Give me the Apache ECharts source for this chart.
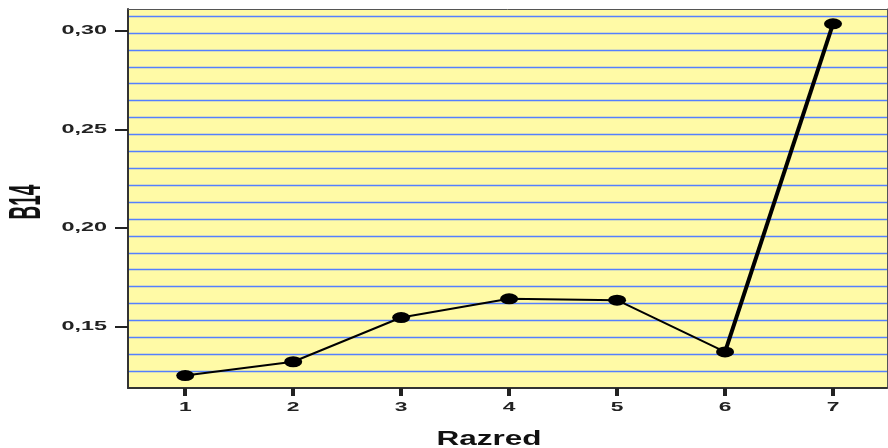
<!DOCTYPE html>
<html><head><meta charset="utf-8">
<script src="https://cdn.jsdelivr.net/npm/echarts@6/dist/echarts.min.js"></script>
<style>html,body{margin:0;padding:0;background:#fff}#c{width:888px;height:448px}</style>
</head><body><div id="c"></div>
<script>
const categories = [1, 2, 3, 4, 5, 6, 7];
const values = [0.1253, 0.1323, 0.1547, 0.1642, 0.1635, 0.1373, 0.3035];
const yTicks = [0.15, 0.20, 0.25, 0.30];
const xTitle = 'Razred';
const yTitle = 'B14';

const chart = echarts.init(document.getElementById('c'), null, {renderer: 'canvas'});
const pts = categories.map((c, i) => [c, values[i]]);
const steep = categories.map((c, i) => [c, i >= 5 ? values[i] : '-']);

chart.setOption({
  animation: false,
  grid: {left: 128, top: 9, width: 759, height: 379, show: true, backgroundColor: '#fffaa6', borderWidth: 0},
  xAxis: [
    {type: 'value', min: 0.47, max: 7.5,
     axisLine: {show: true, onZero: false, lineStyle: {color: '#333', width: 2}},
     axisTick: {show: true, customValues: categories, length: 8, lineStyle: {color: '#222', width: 4}},
     axisLabel: {show: false}, splitLine: {show: false}},
    {type: 'value', position: 'top', min: 0.47, max: 7.5,
     axisLine: {show: true, onZero: false, lineStyle: {color: '#555', width: 1}},
     axisTick: {show: false}, axisLabel: {show: false}, splitLine: {show: false}}
  ],
  yAxis: [
    {type: 'value', min: 0.119, max: 0.311,
     axisLine: {show: true, onZero: false, lineStyle: {color: '#333', width: 2}},
     axisTick: {show: true, customValues: yTicks, length: 13, lineStyle: {color: '#222', width: 2}},
     axisLabel: {show: false}, splitLine: {show: false}},
    {type: 'value', position: 'right', min: 0, max: 22.42, interval: 1,
     axisLine: {show: true, onZero: false, lineStyle: {color: '#555', width: 1}},
     axisTick: {show: false}, axisLabel: {show: false},
     splitLine: {show: true, showMinLine: false, showMaxLine: false, lineStyle: {color: '#5580ff', width: 1.3}}}
  ],
  series: [
    {type: 'line', xAxisIndex: 0, yAxisIndex: 0, data: steep, symbol: 'none',
     lineStyle: {color: '#000', width: 4}, z: 3},
    {type: 'line', xAxisIndex: 0, yAxisIndex: 0, data: pts, symbol: 'circle', symbolSize: [18, 11],
     itemStyle: {color: '#000'}, lineStyle: {color: '#000', width: 2}, z: 4}
  ]
});

const g = [];
yTicks.forEach(v => {
  const py = chart.convertToPixel({yAxisIndex: 0}, v);
  g.push({type: 'text', x: 107, y: py, scaleX: 1.95, z: 10,
    style: {text: v.toFixed(2).replace('.', ','), font: 'bold 12px "Liberation Sans"', fill: '#222', align: 'right', verticalAlign: 'middle'}});
});
categories.forEach(c => {
  const px = chart.convertToPixel({xAxisIndex: 0}, c);
  g.push({type: 'text', x: px, y: 408, scaleX: 1.9, z: 10,
    style: {text: String(c), font: 'bold 12px "Liberation Sans"', fill: '#222', align: 'center', verticalAlign: 'middle'}});
});
g.push({type: 'text', x: 489, y: 439, scaleX: 1.5, z: 10,
  style: {text: xTitle, font: 'bold 21px "Liberation Sans"', fill: '#111', align: 'center', verticalAlign: 'middle'}});
g.push({type: 'text', x: 28, y: 202, rotation: Math.PI / 2, scaleY: 2.35, z: 10,
  style: {text: yTitle, font: 'bold 19px "Liberation Sans"', fill: '#111', align: 'center', verticalAlign: 'middle'}});
chart.setOption({graphic: g});
</script></body></html>
